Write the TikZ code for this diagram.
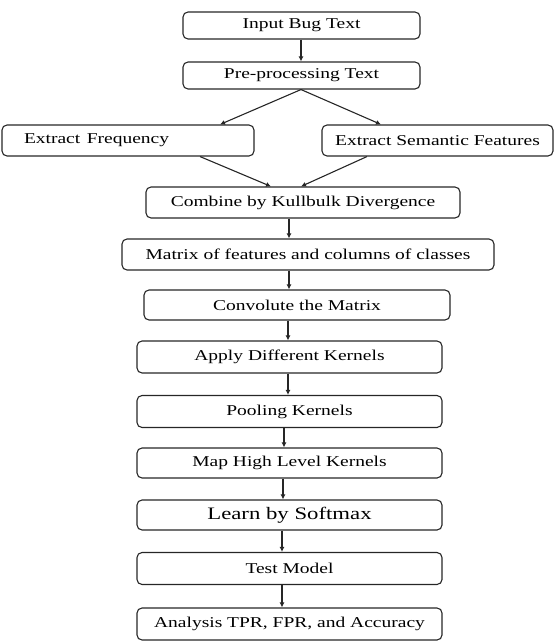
\documentclass[tikz,border=0pt]{standalone}
\usepackage{fontspec}
\setmainfont{Liberation Serif}
\usetikzlibrary{arrows.meta}
\newcommand{\wtxt}[1]{\scalebox{1.3}[1]{#1}}
\begin{document}
\begin{tikzpicture}[x=1pt,y=-1pt,
  box/.style={draw=black!85,line width=1.1pt,rounded corners=5pt,inner sep=0pt,
    font=\fontsize{15}{18}\selectfont,anchor=center},
  arr/.style={draw=black!85,line width=1.1pt,-{Latex[length=5pt,width=5pt]}}]
\useasboundingbox (0,0) rectangle (555,642);
% boxes: center, width, height
\node[box,minimum width=237pt,minimum height=27pt] (in)  at (301.5,25.5) {\wtxt{Input Bug Text}};
\node[box,minimum width=237pt,minimum height=27pt] (pre) at (301.5,75.5) {\wtxt{Pre-processing Text}};
\node[box,minimum height=31pt,text width=208pt,inner xsep=22pt,align=left] (ef) at (128,140.5) {\wtxt{Extract Frequency}};
\node[box,minimum width=231pt,minimum height=31pt] (es) at (437.5,140.5) {\wtxt{Extract Semantic Features}};
\node[box,minimum width=314pt,minimum height=31pt] (comb) at (303,202.5) {\wtxt{Combine by Kullbulk Divergence}};
\node[box,minimum width=372pt,minimum height=31pt] (mat) at (308,254.5) {\wtxt{Matrix of features and columns of classes}};
\node[box,minimum width=306pt,minimum height=30pt] (conv) at (297,305) {\wtxt{Convolute the Matrix}};
\node[box,minimum width=305pt,minimum height=32pt] (app) at (289.5,357) {\wtxt{Apply Different Kernels}};
\node[box,minimum width=305pt,minimum height=32pt] (pool) at (289.5,411.5) {\wtxt{Pooling Kernels}};
\node[box,minimum width=305pt,minimum height=30pt] (map) at (289.5,463) {\wtxt{Map High Level Kernels}};
\node[box,minimum width=305pt,minimum height=30pt,font=\fontsize{17.5}{20}\selectfont] (learn) at (289.5,515) {\wtxt{Learn by Softmax}};
\node[box,minimum width=305pt,minimum height=32pt] (test) at (289.5,568.5) {\wtxt{Test Model}};
\node[box,minimum width=305pt,minimum height=32pt] (ana) at (289.5,624) {\wtxt{Analysis TPR, FPR, and Accuracy}};
% arrow columns
\coordinate (c1) at (301,0);
\coordinate (c2) at (289,0);
\coordinate (c3) at (288,0);
\coordinate (c4) at (284,0);
\coordinate (c5) at (283,0);
\coordinate (c6) at (282,0);
\coordinate (efin) at (220,0);
\coordinate (esin) at (381,0);
\coordinate (efout) at (200,0);
\coordinate (esout) at (367,0);
\coordinate (cbl) at (271,0);
\coordinate (cbr) at (301,0);
\draw[arr] (in.south -| c1) -- (pre.north -| c1);
\draw[arr] (pre.south -| c1) -- (ef.north -| efin);
\draw[arr] (pre.south -| c1) -- (es.north -| esin);
\draw[arr] (ef.south -| efout) -- (comb.north -| cbl);
\draw[arr] (es.south -| esout) -- (comb.north -| cbr);
\draw[arr] (comb.south -| c2) -- (mat.north -| c2);
\draw[arr] (mat.south -| c2) -- (conv.north -| c2);
\draw[arr] (conv.south -| c3) -- (app.north -| c3);
\draw[arr] (app.south -| c3) -- (pool.north -| c3);
\draw[arr] (pool.south -| c4) -- (map.north -| c4);
\draw[arr] (map.south -| c5) -- (learn.north -| c5);
\draw[arr] (learn.south -| c6) -- (test.north -| c6);
\draw[arr] (test.south -| c6) -- (ana.north -| c6);
\end{tikzpicture}
\end{document}
